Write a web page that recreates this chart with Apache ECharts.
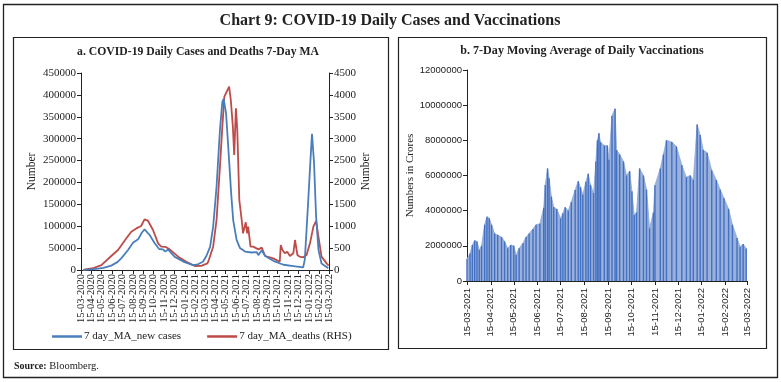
<!DOCTYPE html>
<html><head><meta charset="utf-8">
<script src="https://cdn.jsdelivr.net/npm/echarts@6/dist/echarts.min.js"></script>
<style>html,body{margin:0;padding:0;background:#fff}#c{width:781px;height:382px}</style>
</head><body><div id="c"></div>
<script>
// ---------- Panel a: daily cases & deaths (7-day MA) ----------
const caseDates = ['2020-03-22','2020-04-01','2020-04-15','2020-05-04','2020-05-20','2020-06-12','2020-06-30','2020-07-12','2020-07-31','2020-08-15','2020-08-30','2020-09-10','2020-09-18','2020-10-03','2020-10-18','2020-10-31','2020-11-11','2020-11-18','2020-11-26','2020-12-16','2021-01-14','2021-02-08','2021-02-22','2021-03-09','2021-03-19','2021-03-30','2021-04-08','2021-04-18','2021-04-28','2021-05-05','2021-05-09','2021-05-16','2021-05-23','2021-05-31','2021-06-06','2021-06-16','2021-06-26','2021-07-11','2021-07-30','2021-08-14','2021-08-19','2021-08-29','2021-09-08','2021-10-02','2021-11-01','2021-11-30','2021-12-29','2022-01-03','2022-01-13','2022-01-20','2022-01-24','2022-01-30','2022-02-05','2022-02-12','2022-02-21','2022-03-13'];
const caseValues = [200,1000,1200,3000,5000,10000,18000,27000,45000,62000,70000,85000,93000,80000,61000,48000,47000,42000,47000,30000,18000,11000,13000,19000,32000,53000,99000,190000,320000,384000,391000,358000,274000,175000,114000,69000,50000,42000,40000,41000,34000,45000,32000,21000,12000,9000,6000,25000,160000,259000,311000,244000,122000,46000,15000,4000];
const deathDates = ['2020-03-22','2020-04-19','2020-05-14','2020-06-12','2020-07-02','2020-07-26','2020-08-10','2020-08-25','2020-09-08','2020-09-18','2020-09-28','2020-10-13','2020-10-28','2020-11-06','2020-11-18','2020-12-01','2020-12-26','2021-01-24','2021-02-13','2021-03-04','2021-03-22','2021-03-25','2021-04-08','2021-04-18','2021-04-28','2021-05-05','2021-05-11','2021-05-18','2021-05-25','2021-05-30','2021-06-05','2021-06-09','2021-06-14','2021-06-18','2021-06-24','2021-07-01','2021-07-05','2021-07-10','2021-07-13','2021-07-17','2021-07-20','2021-07-25','2021-07-27','2021-08-04','2021-08-19','2021-08-29','2021-09-08','2021-10-02','2021-10-21','2021-10-24','2021-10-29','2021-11-05','2021-11-12','2021-11-20','2021-11-30','2021-12-05','2021-12-10','2021-12-12','2021-12-19','2021-12-29','2022-01-08','2022-01-18','2022-01-28','2022-02-05','2022-02-12','2022-02-21','2022-03-08','2022-03-14'];
const deathValues = [2,40,110,320,457,720,875,950,1005,1157,1126,914,609,533,530,472,305,168,91,95,152,200,533,1142,2360,3274,3960,4073,4187,3883,3274,2627,3693,3198,1599,1142,837,800,1090,837,990,990,533,533,472,510,320,266,190,571,457,381,419,320,381,685,670,343,305,290,343,609,990,1120,754,305,152,100];
const leftTickLabels = ['2020-03-15','2020-04-15','2020-05-15','2020-06-15','2020-07-15','2020-08-15','2020-09-15','2020-10-15','2020-11-15','2020-12-15','2021-01-15','2021-02-15','2021-03-15','2021-04-15','2021-05-15','2021-06-15','2021-07-15','2021-08-15','2021-09-15','2021-10-15','2021-11-15','2021-12-15','2022-01-15','2022-02-15','2022-03-15'];

// ---------- Panel b: vaccinations (7-day MA) ----------
const vacDates = ['2021-03-15','2021-03-19','2021-03-22','2021-03-25','2021-03-28','2021-03-31','2021-04-03','2021-04-07','2021-04-10','2021-04-13','2021-04-16','2021-04-20','2021-04-24','2021-04-29','2021-05-03','2021-05-07','2021-05-11','2021-05-15','2021-05-18','2021-05-22','2021-05-27','2021-05-31','2021-06-04','2021-06-09','2021-06-13','2021-06-18','2021-06-23','2021-06-25','2021-06-28','2021-06-30','2021-07-03','2021-07-06','2021-07-10','2021-07-15','2021-07-18','2021-07-21','2021-07-25','2021-07-29','2021-08-03','2021-08-07','2021-08-10','2021-08-13','2021-08-17','2021-08-20','2021-08-23','2021-08-27','2021-08-30','2021-09-01','2021-09-03','2021-09-05','2021-09-10','2021-09-14','2021-09-16','2021-09-20','2021-09-24','2021-09-26','2021-09-30','2021-10-05','2021-10-09','2021-10-13','2021-10-16','2021-10-19','2021-10-22','2021-10-26','2021-10-31','2021-11-04','2021-11-08','2021-11-13','2021-11-15','2021-11-22','2021-11-26','2021-11-30','2021-12-07','2021-12-13','2021-12-20','2021-12-26','2021-12-31','2022-01-04','2022-01-09','2022-01-13','2022-01-17','2022-01-22','2022-01-28','2022-02-03','2022-02-08','2022-02-13','2022-02-19','2022-02-24','2022-03-02','2022-03-06','2022-03-10','2022-03-14'];
const vacValues = [1250000,1570000,2050000,2300000,2250000,1760000,2000000,3200000,3660000,3570000,3200000,2700000,2620000,2500000,2250000,1860000,2050000,2000000,1480000,1860000,2150000,2500000,2700000,2960000,3200000,3250000,4170000,5460000,6400000,5850000,4800000,4200000,4100000,3560000,3850000,4200000,4000000,4500000,5180000,5670000,5330000,4900000,5650000,6100000,5460000,5000000,6800000,8000000,8400000,7900000,7700000,7700000,6900000,9400000,9800000,7450000,7200000,6800000,6000000,6250000,5100000,3750000,3900000,6400000,6000000,5200000,3000000,3900000,5450000,6400000,7200000,8000000,7900000,7650000,6600000,5900000,6000000,5750000,8900000,8300000,7450000,7300000,6300000,5750000,5200000,4700000,4100000,3200000,2450000,1950000,2100000,1850000];
const rightTickLabels = ['2021-03-15','2021-04-15','2021-05-15','2021-06-15','2021-07-15','2021-08-15','2021-09-15','2021-10-15','2021-11-15','2021-12-15','2022-01-15','2022-02-15','2022-03-15'];

function ts(s){const p=s.split('-').map(Number);return new Date(p[0],p[1]-1,p[2]).getTime();}
function pad(n){return (n<10?'0':'')+n;}
function fmt(v){const d=new Date(v);return pad(d.getDate())+'-'+pad(d.getMonth()+1)+'-'+d.getFullYear();}
function plain(v){return String(v);}

const serif = 'Liberation Serif';
const sans = 'Liberation Sans';
const ink = '#222';
const leftTicks = leftTickLabels.map(ts);
const leftEven = leftTicks.filter((v,i)=>i%2===0);
const leftOdd = leftTicks.filter((v,i)=>i%2===1);
const rightTicks = rightTickLabels.map(ts);
const leftLabelStyle = {rotate:90,formatter:fmt,fontFamily:serif,fontSize:10.5,color:ink,margin:4,showMinLabel:true,showMaxLabel:true,hideOverlap:false};

const chart = echarts.init(document.getElementById('c'), null, {renderer:'canvas'});
chart.setOption({
  animation:false,
  backgroundColor:'#fff',
  graphic:[
    {type:'rect',shape:{x:3.5,y:4.5,width:774,height:373},style:{fill:'none',stroke:'#222',lineWidth:1.3},silent:true},
    {type:'rect',shape:{x:13.5,y:37.5,width:375,height:312},style:{fill:'none',stroke:'#222',lineWidth:1.2},silent:true},
    {type:'rect',shape:{x:398.5,y:37.5,width:368,height:311},style:{fill:'none',stroke:'#222',lineWidth:1.2},silent:true},
    {type:'text',x:390,y:21,style:{text:'Chart 9: COVID-19 Daily Cases and Vaccinations',font:'bold 16px "Liberation Serif"',fill:'#222',align:'center',verticalAlign:'middle'}},
    {type:'text',x:198,y:52,scaleX:0.9,style:{text:'a. COVID-19 Daily Cases and Deaths 7-Day MA',font:'bold 13px "Liberation Serif"',fill:'#222',align:'center',verticalAlign:'middle'}},
    {type:'text',x:582,y:51,scaleX:0.93,style:{text:'b. 7-Day Moving Average of Daily Vaccinations',font:'bold 13px "Liberation Serif"',fill:'#222',align:'center',verticalAlign:'middle'}},
    {type:'text',x:14,y:366,style:{text:'{b|Source:} Bloomberg.',rich:{b:{font:'bold 10px "Liberation Serif"',fill:'#222'}},font:'10.5px "Liberation Serif"',fill:'#222',verticalAlign:'middle'}}
  ],
  legend:{
    left:52, top:331, padding:0, icon:'rect', itemWidth:30, itemHeight:2.5, itemGap:26,
    textStyle:{fontFamily:serif,fontSize:11,color:ink,padding:[0,0,0,-3]},
    data:['7 day_MA_new cases','7 day_MA_deaths (RHS)']
  },
  grid:[
    {left:81,right:452,top:73,bottom:112},
    {left:467,right:34,top:70,bottom:101}
  ],
  xAxis:[
    {type:'value',gridIndex:0,position:'bottom',offset:0,min:ts('2020-03-15'),max:ts('2022-03-15'),
     axisLine:{lineStyle:{color:ink,width:1}},
     axisTick:{show:true,customValues:leftTicks,length:4,lineStyle:{color:ink}},
     axisLabel:Object.assign({customValues:leftEven},leftLabelStyle),
     splitLine:{show:false}},
    {type:'value',gridIndex:1,min:ts('2021-03-15'),max:ts('2022-03-15'),
     axisLine:{lineStyle:{color:ink,width:1}},
     axisTick:{show:true,customValues:rightTicks,length:4,lineStyle:{color:ink}},
     axisLabel:{customValues:rightTicks,rotate:90,formatter:fmt,fontFamily:sans,fontSize:9.5,color:ink,margin:7,showMinLabel:true,showMaxLabel:true,hideOverlap:false},
     splitLine:{show:false}},
    {type:'value',gridIndex:0,position:'bottom',offset:0,min:ts('2020-03-15'),max:ts('2022-03-15'),
     axisLine:{show:false},axisTick:{show:false},
     axisLabel:Object.assign({customValues:leftOdd},leftLabelStyle),
     splitLine:{show:false}}
  ],
  yAxis:[
    {type:'value',gridIndex:0,min:0,max:450000,interval:50000,position:'left',
     name:'Number',nameLocation:'middle',nameRotate:90,nameGap:43,nameTextStyle:{fontFamily:serif,fontSize:11.5,color:ink},
     axisLine:{show:true,lineStyle:{color:ink}},axisTick:{show:true,length:4,lineStyle:{color:ink}},
     axisLabel:{fontFamily:serif,fontSize:11,color:ink,margin:5,formatter:plain,showMinLabel:true},splitLine:{show:false}},
    {type:'value',gridIndex:0,min:0,max:4500,interval:500,position:'right',
     name:'Number',nameLocation:'middle',nameRotate:90,nameGap:30,nameTextStyle:{fontFamily:serif,fontSize:11.5,color:ink},
     axisLine:{show:true,lineStyle:{color:ink}},axisTick:{show:true,length:4,lineStyle:{color:ink}},
     axisLabel:{fontFamily:serif,fontSize:11,color:ink,margin:5,formatter:plain,showMinLabel:true},splitLine:{show:false}},
    {type:'value',gridIndex:1,min:0,max:12000000,interval:2000000,
     name:'Numbers in Crores',nameLocation:'middle',nameRotate:90,nameGap:44,nameTextStyle:{fontFamily:serif,fontSize:11,color:ink},
     axisLine:{show:true,lineStyle:{color:ink}},axisTick:{show:true,length:4,lineStyle:{color:ink}},
     axisLabel:{fontFamily:sans,fontSize:9.5,color:ink,margin:5,formatter:plain,showMinLabel:true},splitLine:{show:false}}
  ],
  series:[
    {name:'7 day_MA_new cases',type:'line',xAxisIndex:0,yAxisIndex:0,showSymbol:false,
     data:caseDates.map((d,i)=>[ts(d),caseValues[i]]),lineStyle:{color:'#4a7ebb',width:1.8},itemStyle:{color:'#4a7ebb'},z:3},
    {name:'7 day_MA_deaths (RHS)',type:'line',xAxisIndex:0,yAxisIndex:1,showSymbol:false,
     data:deathDates.map((d,i)=>[ts(d),deathValues[i]]),lineStyle:{color:'#be4b48',width:1.8},itemStyle:{color:'#be4b48'},z:2},
    {name:'Vaccinations area',type:'line',xAxisIndex:1,yAxisIndex:2,showSymbol:false,
     data:vacDates.map((d,i)=>[ts(d),vacValues[i]]),lineStyle:{color:'#8fa8d8',width:0.8},areaStyle:{color:'#9ab1dc',opacity:1},z:1},
    {name:'Vaccinations',type:'bar',xAxisIndex:1,yAxisIndex:2,barWidth:1.4,
     data:vacDates.map((d,i)=>[ts(d),vacValues[i]]),itemStyle:{color:'#4470c2'},z:2}
  ]
});
</script></body></html>
